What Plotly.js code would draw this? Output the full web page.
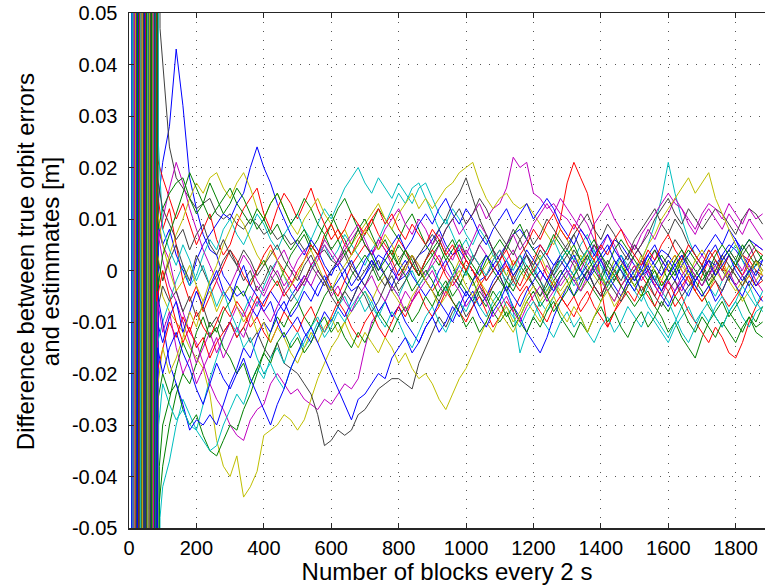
<!DOCTYPE html>
<html><head><meta charset="utf-8">
<script src="https://cdn.plot.ly/plotly-3.0.1.min.js"></script>
<style>html,body{margin:0;padding:0;background:#fff}#chart{width:765px;height:586px}</style>
</head><body><div id="chart"></div>
<script>
// Block numbers of the settled part (every 20 blocks)
const blocks = [100,120,140,160,180,200,220,240,260,280,300,320,340,360,380,400,420,440,460,480,500,520,540,560,580,600,620,640,660,680,700,720,740,760,780,800,820,840,860,880,900,920,940,960,980,1000,1020,1040,1060,1080,1100,1120,1140,1160,1180,1200,1220,1240,1260,1280,1300,1320,1340,1360,1380,1400,1420,1440,1460,1480,1500,1520,1540,1560,1580,1600,1620,1640,1660,1680,1700,1720,1740,1760,1780,1800,1820,1840,1860,1880];
const xTicks = [0,200,400,600,800,1000,1200,1400,1600,1800];
const yTicks = [-0.05,-0.04,-0.03,-0.02,-0.01,0,0.01,0.02,0.03,0.04,0.05];
const yTickText = ['-0.05','-0.04','-0.03','-0.02','-0.01','0','0.01','0.02','0.03','0.04','0.05'];
const xTitle = 'Number of blocks every 2 s';
const yTitleLines = ['Difference between true orbit errors', 'and estimmates [m]'];
const colorOrder = ['#0000ff','#008000','#ff0000','#00bfbf','#bf00bf','#bfbf00','#404040'];

// Differences in millimetres, one array per run (settled part on the blocks grid)
const s01 = [21,28,43,32,18,12,7,4,3,-1, -3,-5,-4,-7,-9,-6,-4,-6,-8,-5, -3,-1,-3,-5,-2,0,1,-2,-4,-3, -1,1,3,2,0,-2,-1,1,3,4, 6,8,5,3,4,2,0,-2,-1,1, 3,5,7,8,6,4,5,3,1,2, 0,-2,-1,1,3,2,4,6,5,3, 1,-1,0,2,4,3,1,-1,-3,-2, 0,2,1,3,5,4,2,0,1,2];
const s02 = [-38,-30,-24,-20,-22,-18,-14,-10,-12,-8, -6,-3,-5,-2,0,2,-1,-3,0,3, 5,7,4,6,9,11,8,6,3,5, 7,9,12,10,8,6,9,11,8,5, 3,1,4,6,3,0,-2,1,3,0, -2,-4,-1,1,-1,-3,-5,-3,0,2, 4,2,0,-2,-4,-6,-3,-1,1,-1, -3,-5,-4,-7,-9,-12,-10,-13,-15,-17, -13,-10,-8,-6,-9,-7,-5,-8,-10,-7];
const s03 = [8,12,5,-2,-6,-3,-8,-5,-2,1, 4,2,-1,-3,0,3,5,2,0,-2, -4,-2,1,3,0,-3,-5,-2,1,3, 5,3,6,4,2,-1,1,3,0,-2, -4,-2,1,3,5,2,0,-3,-1,2, 4,1,-1,-3,0,2,5,3,6,10, 17,21,18,15,9,-3,-11,-8,-5,-2, -1,2,0,-3,-1,1,3,0,-2,-4, -1,2,4,1,-1,1,3,2,0,-1];
const s04 = [-42,-37,-30,-25,-28,-31,-26,-21,-17,-13, -10,-12,-8,-5,-7,-3,0,2,-1,-4, -6,-3,0,3,5,2,4,7,5,3, 1,4,6,9,12,15,13,16,17,14, 11,8,10,7,4,6,3,1,-2,0, 2,-1,-3,0,3,1,-2,-4,-1,2, 4,2,5,7,4,1,-1,2,0,-3, -1,2,5,9,14,21,15,10,6,3, 1,4,2,0,3,5,2,-1,1,3];
const s05 = [5,2,-4,-8,-12,-14,-18,-22,-25,-27, -30,-32,-33,-29,-27,-26,-22,-20,-22,-24, -23,-25,-26,-27,-25,-26,-24,-22,-23,-21, -15,-10,-8,-6,-9,-7,-4,-6,-3,-1, 1,3,0,-2,1,4,2,5,3,1, -1,2,4,1,3,0,-2,1,-1,-3, -1,2,0,3,5,2,0,-2,1,3, 5,3,1,4,2,0,-2,-4,-1,1, 3,1,-1,2,4,2,0,3,5,4];
const s06 = [-5,-8,-10,-12,-15,-17,-19,-24,-33,-38, -40,-36,-44,-42,-39,-32,-31,-30,-28,-29, -31,-29,-25,-21,-18,-15,-13,-10,-8,-6, -4,-6,-3,-1,-4,-6,-8,-5,-3,-1, 1,-2,-4,-1,2,0,-3,-1,1,3, 1,-1,2,0,-2,1,3,0,-2,-4, -2,0,3,1,-1,-3,-1,2,0,-2, 0,3,1,-2,-4,-2,0,2,-1,-3, -5,-3,0,2,-1,-3,-6,-4,-2,0];
const s07 = [40,24,18,16,14,12,13,14,11,10, 11,9,8,10,9,7,8,6,7,5, 6,4,5,3,4,2,1,3,0,-2, 0,2,-1,-3,0,2,4,1,-1,2, 5,8,10,13,15,18,14,10,7,4, 0,-2,1,3,0,-3,-5,-2,0,3, 5,7,4,2,5,3,0,-2,1,3, 6,8,10,12,9,7,10,8,5,3, 1,-1,2,0,-2,1,3,5,2,0];
const s08 = [5,8,3,0,-3,2,5,7,9,11, 10,13,15,20,24,20,17,13,10,7, 5,3,6,4,1,-1,2,0,-3,-1, 2,4,1,-1,-3,0,2,-1,-3,-5, -3,0,2,-1,-3,-5,-2,0,3,1, -1,-4,-7,-9,-12,-14,-16,-13,-9,-6, -3,-5,-2,0,-3,-5,-2,1,3,0, -2,1,3,5,2,0,-2,1,3,5, 3,5,7,5,8,6,4,6,5,4];
const s09 = [-20,-24,-22,-27,-30,-28,-32,-35,-36,-33, -30,-31,-27,-24,-20,-16,-12,-9,-11,-8, -6,-9,-11,-8,-5,-3,-6,-4,-1,1, 3,1,-2,0,2,5,3,1,-1,2, 4,6,3,1,-2,-4,-6,-3,-5,-8, -10,-8,-11,-9,-6,-4,-7,-5,-2,0, -2,-5,-3,0,2,-1,-4,-2,1,-1, -3,-1,2,4,1,-2,0,3,1,-2, -4,-7,-9,-11,-8,-10,-12,-9,-11,-10];
const s10 = [18,14,10,13,9,5,8,11,6,3, 5,9,12,14,16,11,8,12,15,13, 10,13,16,12,9,6,8,5,3,6, 8,10,7,5,3,6,4,1,-1,2, 4,2,-1,-3,-1,2,0,-2,-5,-3, -1,1,-2,-4,-2,0,2,-1,-3,-5, -7,-5,-8,-6,-3,-5,-2,0,-3,-1, 1,-1,-3,-5,-2,-4,-7,-5,-8,-10, -12,-14,-11,-13,-16,-17,-14,-10,-7,-5];
const s11 = [-10,-6,-2,1,-3,-1,3,6,4,8, 10,7,5,8,11,9,6,4,7,9, 11,8,6,9,12,10,13,16,18,20, 17,15,18,16,14,17,15,13,16,17, 14,11,9,12,10,7,5,8,6,3, 1,-3,-8,-16,-12,-9,-6,-8,-5,-2, 0,-3,-1,2,4,1,-2,0,3,1, -1,-4,-7,-9,-11,-13,-10,-7,-4,-2, 0,-3,-5,-2,0,2,-1,-3,-6,-8];
const s12 = [10,16,21,17,12,8,4,1,-2,-5, -3,0,3,1,-2,-4,-1,2,4,1, -1,-3,0,2,5,3,1,4,6,8, 5,3,6,4,1,-2,0,3,1,-1, 2,5,8,10,7,9,11,13,10,12, 13,16,22,20,21,15,14,12,13,11, 10,8,11,9,6,4,7,5,2,0, 3,5,8,6,9,11,14,12,9,7, 10,12,10,8,11,9,7,10,8,6];
const s13 = [-2,3,7,10,14,17,15,18,19,16, 14,17,19,16,12,10,13,15,12,9, 7,10,12,14,11,9,6,8,5,7, 9,11,13,10,8,11,13,15,12,14, 12,14,16,17,19,20,21,17,14,12, 14,15,13,12,13,11,9,7,5,8, 6,3,1,4,2,-1,-3,0,2,-1, -3,-5,-2,0,-3,-1,2,0,-2,-4, -6,-4,-1,1,-2,-4,-2,0,2,1];
const s14 = [-3,-6,-4,-8,-5,-9,-7,-11,-9,-12, -10,-13,-11,-14,-12,-15,-17,-14,-18,-19, -20,-22,-24,-28,-34,-33,-31,-32,-31,-28, -27,-25,-23,-22,-21,-21,-22,-23,-18,-15, -12,-9,-11,-8,-6,-9,-7,-4,-6,-3, -1,-4,-2,1,3,0,-2,-5,-3,-1, 1,4,2,0,-3,-1,2,0,-2,1, 3,5,7,10,12,14,11,9,12,10, 8,10,12,11,9,7,10,12,11,9];
const s15 = [-10,-18,-22,-26,-31,-29,-30,-28,-30,-26, -22,-19,-15,-17,-13,-10,-12,-8,-6,-9, -7,-4,-6,-3,-1,-4,-2,0,2,-1, -3,-5,-8,-6,-9,-7,-10,-12,-14,-11, -9,-12,-10,-7,-9,-6,-4,-7,-5,-2, 0,2,-1,1,4,2,0,-2,1,3, 1,-1,-4,-2,0,2,-1,-3,-5,-2, 0,2,-1,-3,-5,-7,-4,-2,0,-3, -5,-3,-6,-4,-1,-3,-5,-2,-4,-6];
const s16 = [12,15,17,18,14,11,13,10,12,14, 16,13,11,9,12,10,7,9,6,4, 6,8,5,3,6,9,12,14,11,8, 10,7,4,6,3,1,4,2,-1,1, 3,5,2,4,6,3,1,-1,2,4, 6,4,7,9,6,4,2,4,7,5, 3,5,2,4,6,3,1,4,6,4, 2,0,-2,1,3,1,-1,2,4,2, 0,-3,-1,2,4,2,5,3,1,3];
const s17 = [-15,-10,-13,-9,-12,-8,-11,-13,-10,-7, -9,-6,-8,-11,-9,-12,-14,-11,-8,-10, -12,-9,-7,-10,-12,-9,-6,-8,-11,-13, -10,-8,-11,-13,-10,-7,-9,-6,-4,-7, -9,-7,-4,-6,-8,-10,-7,-5,-8,-11, -9,-6,-8,-5,-3,-6,-8,-10,-7,-5, -7,-9,-6,-4,-7,-9,-11,-8,-6,-4, -6,-3,-5,-7,-4,-2,-5,-3,-1,-4, -6,-4,-2,-5,-7,-5,-3,-1,-3,-2];
const s18 = [-22,-26,-29,-27,-30,-31,-33,-35,-34,-30, -27,-24,-26,-22,-19,-21,-17,-15,-18,-14, -12,-15,-13,-10,-13,-11,-8,-10,-7,-5, -8,-6,-9,-11,-8,-10,-13,-15,-12,-9, -7,-10,-12,-9,-6,-8,-5,-7,-9,-6, -4,-7,-9,-11,-8,-6,-9,-11,-13,-10, -8,-11,-9,-12,-14,-11,-9,-12,-10,-7, -9,-11,-8,-10,-12,-14,-11,-9,-7,-10, -8,-10,-7,-5,-8,-6,-9,-11,-8,-7];
const s19 = [2,-3,-6,-10,-14,-18,-15,-12,-16,-13, -10,-7,-9,-6,-3,-5,-2,0,-3,-1, 2,4,1,3,6,4,2,5,7,9, 6,3,5,8,10,12,9,7,10,8, 5,7,4,2,5,3,6,9,7,4, 2,5,7,4,6,9,11,13,11,14, 12,10,8,6,9,11,13,10,8,6, 4,7,9,11,13,15,13,12,10,8, 11,13,12,10,13,11,9,12,10,11];
const s20 = [5,0,-4,-2,1,-3,-6,-4,-8,-5, -3,-7,-10,-8,-12,-10,-14,-11,-13,-16, -18,-15,-12,-14,-11,-9,-12,-10,-13,-15, -12,-14,-16,-13,-15,-18,-16,-19,-21,-20, -22,-25,-27,-24,-21,-19,-16,-13,-10,-12, -9,-7,-10,-8,-5,-3,-6,-4,-2,-5, -3,-1,-4,-2,1,-1,-4,-6,-3,-1, 1,-1,2,0,-2,1,3,1,-1,2, 4,2,0,-2,1,-1,-3,-1,2,0];
const s21 = [-2,2,5,1,-2,3,0,-3,-1,2, 4,1,-2,0,-4,-2,1,-1,-4,-6, -4,-2,1,-1,-3,0,2,4,1,-1, -3,0,2,-1,-4,-2,1,3,0,-2, -4,-6,-3,-1,-3,0,2,5,7,4, 2,5,3,6,8,5,7,10,8,6, 4,7,9,11,8,6,9,7,4,2, 5,3,0,-2,1,3,6,4,1,-1, -3,0,-2,-4,-1,1,-1,-3,0,-2];
const s22 = [-14,-9,-6,-12,-8,-4,-7,-3,0,-4, -6,-2,1,-3,-5,-8,-6,-10,-13,-11, -9,-12,-14,-11,-8,-10,-7,-9,-6,-3, -1,2,0,3,5,7,4,6,9,11, 9,12,14,11,9,12,10,7,5,8, 10,12,9,11,13,10,12,14,12,9, 7,5,8,6,3,5,7,4,2,0, -2,0,3,1,-1,2,0,-3,-5,-2, 0,3,5,2,4,6,3,1,-1,2];
const s23 = [-30,-25,-19,-14,-17,-12,-9,-13,-11,-15, -17,-20,-18,-22,-19,-16,-18,-14,-12,-15, -13,-16,-14,-11,-9,-12,-10,-13,-15,-12, -14,-11,-8,-10,-12,-9,-7,-10,-8,-5, -7,-4,-2,-5,-3,0,-2,-5,-7,-4, -6,-9,-7,-10,-12,-9,-11,-8,-6,-9, -11,-13,-10,-12,-9,-7,-10,-8,-11,-13, -10,-8,-11,-9,-6,-8,-5,-7,-10,-12, -9,-11,-13,-10,-12,-14,-11,-9,-12,-13];
const s24 = [0,-5,-10,-14,-11,-15,-13,-17,-14,-12, -10,-13,-11,-8,-5,-7,-4,-2,-5,-3, 0,2,5,3,7,9,6,8,11,9, 7,10,12,9,11,8,6,9,7,5, 8,6,3,5,2,0,3,1,-2,0, 2,4,1,3,5,8,6,9,11,8, 6,9,7,4,2,5,3,6,8,5, 3,1,4,2,5,7,4,2,5,3, 1,4,2,0,3,1,-1,2,4,3];
const s25 = [8,4,1,5,2,-2,1,-3,-7,-4, -8,-11,-15,-13,-17,-20,-18,-21,-23,-19, -16,-14,-11,-9,-12,-10,-7,-5,-8,-6, -4,-7,-9,-6,-3,-5,-2,0,-3,-1, 1,-2,-4,-1,1,-1,3,1,-1,2, 4,2,0,3,1,-1,2,4,6,3, 1,-1,2,4,1,-1,-3,-1,1,-2, -4,-6,-3,-1,-4,-6,-9,-12,-14,-11, -8,-6,-9,-11,-8,-6,-3,-5,-7,-4];
const s26 = [-12,-8,-15,-20,-17,-22,-19,-16,-13,-17, -14,-11,-13,-9,-6,-8,-10,-7,-4,-2, -4,-1,-3,0,-2,-5,-3,-6,-8,-5, -3,-1,-4,-6,-3,-5,-8,-6,-4,-2, 0,-3,-5,-2,-4,-7,-5,-3,-6,-9, -7,-5,-8,-10,-7,-5,-3,-6,-4,-2, 0,-2,-4,-1,1,-2,-4,-6,-3,-1, 1,-2,0,-3,-5,-2,-4,-1,1,-1, -3,-1,1,-2,0,-3,-1,1,-2,-4];
const s27 = [-15,-20,-17,-13,-8,-11,-6,-2,1,5, 8,11,9,6,3,1,4,2,-1,-3, -1,2,4,1,-2,-4,-1,1,3,5, 8,6,4,7,5,2,0,3,1,-2, -4,-7,-5,-2,0,-3,-5,-2,-4,-6, -8,-10,-12,-9,-6,-8,-10,-7,-5,-8, -10,-7,-9,-12,-9,-6,-4,-7,-5,-3, -1,2,5,7,10,12,14,16,18,15, 17,19,14,11,8,5,3,0,2,-1];
const s28 = [12,9,6,8,4,7,9,5,3,6, 3,1,4,2,-1,1,3,5,2,0, -2,1,3,0,-2,-5,-7,-4,-6,-3, -5,-8,-6,-3,-1,-4,-2,1,3,5, 7,5,8,10,12,9,11,14,12,9, 7,5,8,6,3,1,4,2,-1,1, 3,1,-2,0,-3,-5,-2,-4,-6,-3, -1,-4,-2,-5,-7,-4,-2,-5,-3,-1, 1,-2,0,3,1,-1,-3,0,2,1];
const s29 = [-20,-15,-12,-16,-19,-23,-26,-22,-18,-21, -23,-20,-17,-21,-24,-27,-30,-26,-23,-19, -16,-13,-11,-14,-17,-20,-23,-26,-29,-25, -24,-22,-20,-21,-17,-15,-13,-16,-14,-11, -9,-6,-8,-10,-7,-4,-6,-9,-11,-8, -6,-3,-5,-7,-4,-2,0,-2,-4,-1, 1,3,0,-2,1,3,5,2,0,-2, -4,-1,1,-2,-4,-1,1,3,0,-2, 0,2,-1,1,3,0,-2,0,-3,-1];
const s30 = [3,7,11,15,19,16,13,17,14,11, 13,16,14,11,8,10,13,15,12,9, 11,14,12,9,7,4,6,3,5,8, 5,3,0,2,4,1,-1,-4,-2,0, -2,-5,-3,-6,-8,-11,-9,-12,-10,-7, -5,-2,-4,-1,1,-1,-3,-5,-8,-6, -4,-1,1,3,0,-2,1,-1,-3,-5, -7,-5,-2,0,-3,-1,2,4,2,0, -2,0,3,5,3,1,4,6,4,2];

// Start-up transients (block, mm) pairs before each run settles
const e01 = [0,900, 20,-900, 40,900, 60,-900, 88,14];
const e02 = [2,-900, 23,900, 43,-900, 64,900, 74,-900, 90,-45];
const e03 = [5,900, 25,-900, 46,900, 66,-900, 76,900, 84,15];
const e04 = [7,-900, 28,900, 49,-900, 69,900, 79,-900, 92,-48];
const e05 = [10,900, 30,-900, 51,900, 71,-900, 78,900, 86,8];
const e06 = [12,-900, 33,900, 54,-900, 73,900, 85,0];
const e07 = [1,-900, 15,900, 35,-900, 56,900, 75,-900, 80,900, 92,47];
const e08 = [4,900, 17,-900, 38,900, 58,-900, 77,900, 81,-900, 83,10];
const e09 = [6,900, 27,-900, 47,900, 67,-900, 86,-25];
const e10 = [9,-900, 29,900, 50,-900, 70,900, 83,22];
const e11 = [11,900, 32,-900, 52,900, 72,-900, 85,-14];
const e12 = [14,-900, 34,900, 55,-900, 74,900, 84,5];
const e13 = [16,900, 37,-900, 57,900, 76,-900, 82,4];
const e14 = [18,-900, 39,900, 59,-900, 77,900, 83,-8];
const e15 = [3,-900, 13,900, 31,-900, 53,900, 71,-900, 79,900, 85,-5];
const e16 = [8,900, 19,-900, 42,900, 62,-900, 75,900, 86,8];
const e17 = [13,-900, 24,900, 44,-900, 63,900, 73,-900, 82,-20];
const e18 = [1,900, 18,-900, 36,900, 57,-900, 78,900, 81,-900, 88,-30];
const e19 = [4,-900, 21,900, 41,-900, 61,900, 84,8];
const e20 = [6,900, 26,-900, 45,900, 65,-900, 72,900, 83,12];
const e21 = [9,900, 31,-900, 48,900, 68,-900, 82,3];
const e22 = [12,900, 36,-900, 53,900, 69,-900, 84,-10];
const e23 = [15,900, 38,-900, 56,900, 70,-900, 90,-38];
const e24 = [17,-900, 40,900, 59,-900, 74,900, 82,-6];
const e25 = [2,900, 22,-900, 47,900, 66,-900, 79,900, 87,25];
const e26 = [5,-900, 27,900, 52,-900, 68,900, 77,-900, 85,-6];
const e27 = [8,-900, 30,900, 50,-900, 71,900, 80,-900, 86,-22];
const e28 = [10,-900, 33,900, 54,-900, 72,900, 84,18];
const e29 = [14,-900, 37,900, 58,-900, 75,900, 78,-900, 85,-15];
const e30 = [16,900, 42,-900, 61,900, 73,-900, 80,900, 84,-4];

const settled = [s01,s02,s03,s04,s05,s06,s07,s08,s09,s10,s11,s12,s13,s14,s15,s16,s17,s18,s19,s20,s21,s22,s23,s24,s25,s26,s27,s28,s29,s30];
const startup = [e01,e02,e03,e04,e05,e06,e07,e08,e09,e10,e11,e12,e13,e14,e15,e16,e17,e18,e19,e20,e21,e22,e23,e24,e25,e26,e27,e28,e29,e30];

const traces = settled.map((s, k) => {
  if (s.length !== blocks.length) throw new Error('series ' + (k+1) + ' has ' + s.length);
  const e = startup[k];
  const x = [], y = [];
  for (let i = 0; i < e.length; i += 2) { x.push(e[i]); y.push(e[i+1] / 1000); }
  blocks.forEach((b, i) => { x.push(b); y.push(s[i] / 1000); });
  return {type:'scatter', mode:'lines', x, y, line:{color:colorOrder[k % 7], width:1}, hoverinfo:'skip'};
});

const axisColor = '#262626';
const FONT = 'Liberation Sans, Arial, Helvetica, sans-serif';
const yTitleShift = [-104, -79];   // pixel offsets of the two title line centres from the plot's left edge
const layout = {
  width:765, height:586,
  margin:{l:129, r:0, t:13, b:58, pad:0},
  paper_bgcolor:'#ffffff', plot_bgcolor:'#ffffff',
  showlegend:false,
  font:{family:FONT, color:'#000', size:20},
  xaxis:{
    range:[0,1887], tickvals:xTicks, ticks:'inside', ticklen:5, tickcolor:axisColor,
    showline:true, linecolor:axisColor, linewidth:1.5, mirror:'ticks',
    showgrid:true, gridcolor:'#555', gridwidth:1, griddash:'1px,8px', zeroline:false,
    tickfont:{size:20}, ticklabelstandoff:1,
    title:{text:xTitle, font:{size:24}, standoff:0}
  },
  yaxis:{
    range:[-0.05,0.05], tickvals:yTicks, ticktext:yTickText, ticks:'inside', ticklen:5, tickcolor:axisColor,
    showline:true, linecolor:axisColor, linewidth:1.5, mirror:false,
    showgrid:true, gridcolor:'#555', gridwidth:1, griddash:'1px,8px', zeroline:false,
    tickfont:{size:20}, ticklabelstandoff:6
  },
  annotations: yTitleLines.map((t, i) => ({
    text:t, textangle:-90, xref:'paper', yref:'paper',
    x:0, xshift:yTitleShift[i], y:(527.7 - 262) / 514.7,
    xanchor:'center', yanchor:'middle', showarrow:false,
    font:{size:24, family:FONT, color:'#000'}
  }))
};
Plotly.newPlot('chart', traces, layout, {displayModeBar:false, staticPlot:true});
</script></body></html>
